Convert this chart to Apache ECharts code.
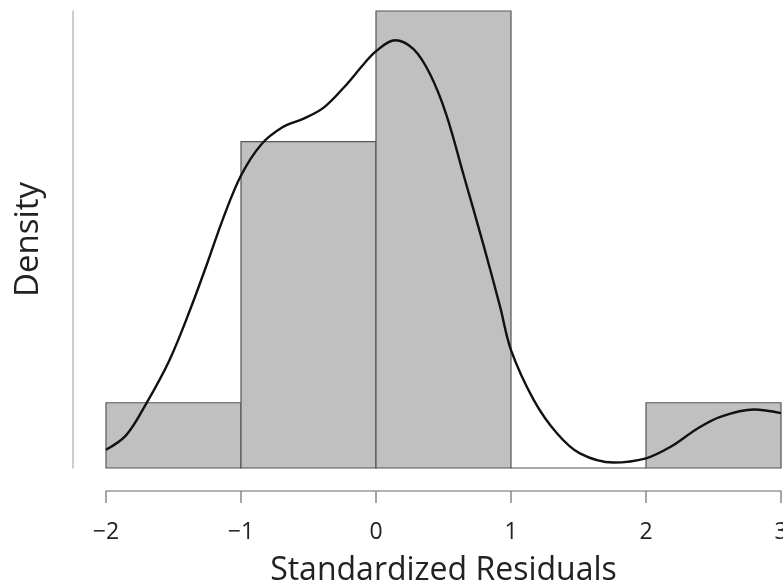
<!DOCTYPE html>
<html>
<head>
<meta charset="utf-8">
<script src="https://cdn.jsdelivr.net/npm/echarts@6/dist/echarts.min.js"></script>
<style>
html,body{margin:0;padding:0;background:#fff;}
#chart{width:783px;height:586px;}
</style>
</head>
<body>
<div id="chart"></div>
<script>
// Histogram bins (standardized residuals) and their densities
const binStart = [-2, -1, 0, 1, 2];
const binEnd = [-1, 0, 1, 2, 3];
const binDensity = [0.0714, 0.3571, 0.5, 0, 0.0714];

// Kernel density curve
const curveX = [-2.0, -1.85, -1.70, -1.53, -1.38, -1.25, -1.13, -1.0, -0.85, -0.69, -0.54, -0.39, -0.24, -0.09, 0.0, 0.14, 0.28, 0.40, 0.52, 0.65, 0.80, 0.92, 1.0, 1.17, 1.34, 1.51, 1.76, 2.0, 2.18, 2.38, 2.55, 2.80, 3.0];
const curveY = [0.020, 0.036, 0.071, 0.118, 0.172, 0.224, 0.274, 0.320, 0.354, 0.373, 0.382, 0.394, 0.416, 0.442, 0.456, 0.468, 0.458, 0.431, 0.387, 0.320, 0.242, 0.176, 0.129, 0.074, 0.038, 0.016, 0.006, 0.0106, 0.023, 0.043, 0.056, 0.064, 0.060];

const xTicks = [-2, -1, 0, 1, 2, 3];

const histData = binStart.map((s, i) => [s, binEnd[i], binDensity[i]]);
const curveData = curveX.map((x, i) => [x, curveY[i]]);

const FONT = 'Open Sans';
const chart = echarts.init(document.getElementById('chart'), null, {renderer: 'canvas'});
chart.setOption({
  animation: false,
  backgroundColor: '#fff',
  grid: {left: 106, right: 2, top: 11, bottom: 118, containLabel: false, outerBoundsMode: 'none'},
  xAxis: {
    type: 'value', min: xTicks[0], max: xTicks[xTicks.length - 1], interval: 1,
    offset: 23,
    axisLine: {show: true, onZero: false, lineStyle: {color: '#999', width: 1.5}},
    axisTick: {show: true, length: 12, lineStyle: {color: '#888', width: 1.5}},
    splitLine: {show: false},
    axisLabel: {
      margin: 30, fontSize: 23, color: '#222', fontFamily: FONT,
      formatter: v => (v < 0 ? '\u2212' + Math.abs(v) : String(v))
    },
    name: 'Standardized Residuals', nameLocation: 'middle', nameGap: 64,
    nameTextStyle: {fontSize: 32, color: '#222', fontFamily: FONT}
  },
  yAxis: {
    type: 'value', min: 0, max: 0.5,
    offset: 33,
    axisLine: {show: true, onZero: false, lineStyle: {color: '#bbb', width: 1.5}},
    axisTick: {show: false},
    axisLabel: {show: false},
    splitLine: {show: false},
    name: 'Density', nameLocation: 'middle', nameGap: 28,
    nameTextStyle: {fontSize: 33, color: '#222', fontFamily: FONT}
  },
  series: [
    {
      type: 'custom',
      data: histData,
      encode: {x: [0, 1], y: 2},
      clip: false,
      renderItem: function (params, api) {
        const p0 = api.coord([api.value(0), api.value(2)]);
        const p1 = api.coord([api.value(1), 0]);
        return {
          type: 'rect',
          shape: {x: p0[0], y: p0[1], width: p1[0] - p0[0], height: p1[1] - p0[1]},
          style: {fill: '#c0c0c0', stroke: '#555', lineWidth: 1.2}
        };
      },
      z: 1
    },
    {
      type: 'line',
      data: curveData,
      smooth: 0.35,
      showSymbol: false,
      lineStyle: {color: '#111', width: 2.4},
      z: 2
    }
  ]
});
</script>
</body>
</html>
